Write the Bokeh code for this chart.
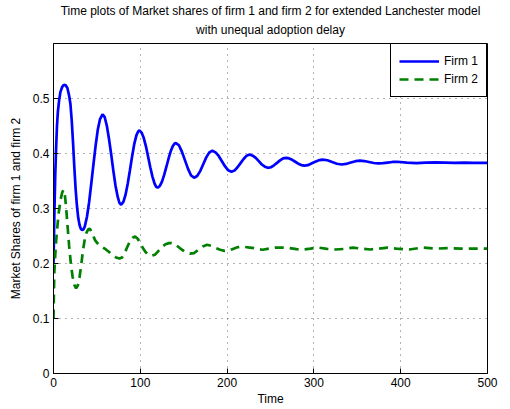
from bokeh.plotting import figure
from bokeh.models import Range1d, FixedTicker, Legend, LegendItem, Title
from bokeh.embed import file_html
from bokeh.resources import INLINE

# ---- data ----
t_firm1 = [0, 1, 2, 3, 4, 5, 6.5, 8, 10, 12, 14, 16, 18, 19.5, 21, 22.5, 24, 25.5, 27, 28.5, 30, 31.5, 33, 34.5,
           36, 38.5, 41, 43.5, 46, 48.5, 51, 53.5, 56.5,
           59, 61.5, 64, 66.5, 69, 71.5, 74, 76, 78,
           80.5, 83, 85.5, 88, 90.5, 93, 95.5, 97.5, 99,
           101.5, 104, 106.5, 109, 111.5, 114, 116.5, 118.5, 120,
           122.5, 125, 127.5, 130, 132.5, 135, 137.5, 139.5, 141,
           144.5, 148, 151.5, 155, 158.5, 162,
           165.5, 169, 172.5, 176, 179.5, 183,
           186.7, 190.3, 194, 197.7, 201.3, 205,
           208.5, 212, 215.5, 219, 222.5, 226,
           229.5, 233, 236.5, 240, 243.5, 247,
           250.5, 254, 257.5, 261, 264.5, 268,
           271.5, 275, 278.5, 282, 285.5, 289,
           293, 296, 299.5, 303, 306.5, 310,
           315.5, 321, 326.5, 332,
           337, 342.5, 348, 353,
           358, 363.5, 369, 374,
           379.5, 385, 390.5, 396,
           407, 418, 429, 440, 451, 462, 473, 484, 500]
share_firm1 = [0.20, 0.29, 0.36, 0.41, 0.45, 0.475, 0.497, 0.512, 0.521, 0.525, 0.524, 0.519, 0.505, 0.49, 0.46, 0.42, 0.375, 0.335, 0.305, 0.283, 0.27, 0.263, 0.261, 0.262,
               0.267, 0.2845, 0.311, 0.345, 0.380, 0.414, 0.443, 0.462, 0.471,
               0.466, 0.450, 0.426, 0.398, 0.368, 0.341, 0.321, 0.310, 0.307,
               0.312, 0.325, 0.345, 0.369, 0.394, 0.417, 0.433, 0.440, 0.442,
               0.438, 0.428, 0.413, 0.394, 0.375, 0.358, 0.345, 0.339, 0.338,
               0.341, 0.349, 0.361, 0.3755, 0.3905, 0.404, 0.4136, 0.418, 0.419,
               0.415, 0.403, 0.3875, 0.372, 0.360, 0.356,
               0.359, 0.368, 0.3805, 0.393, 0.402, 0.405,
               0.402, 0.3955, 0.386, 0.3765, 0.3695, 0.367,
               0.369, 0.375, 0.3825, 0.390, 0.396, 0.398,
               0.396, 0.392, 0.386, 0.380, 0.376, 0.374,
               0.375, 0.3785, 0.383, 0.3875, 0.391, 0.392,
               0.391, 0.3885, 0.385, 0.3815, 0.379, 0.378,
               0.3787, 0.381, 0.3835, 0.386, 0.388, 0.389,
               0.3877, 0.3845, 0.3813, 0.380,
               0.381, 0.3835, 0.386, 0.387,
               0.3863, 0.3845, 0.3827, 0.382,
               0.3824, 0.3835, 0.3846, 0.385,
               0.3835, 0.3825, 0.3835, 0.384, 0.3835, 0.383, 0.3835, 0.383, 0.383]

t_firm2 = [0, 0.5, 1, 2, 3, 4.5, 6, 8, 10, 11.5, 13, 14.5, 16, 18, 20, 22, 24, 26, 28, 30, 32, 34, 36, 38, 40, 42,
           45, 48, 52, 56, 60, 64, 68, 72, 76, 79, 82, 85, 88, 91, 94, 97, 100, 103, 106, 109, 113, 117,
           121, 125, 129, 133, 136, 140, 144, 148, 152, 157, 162, 167, 172, 177, 182, 187, 192, 197, 201,
           206, 211, 216, 221, 226, 231, 236, 241, 248, 256, 264, 272, 280, 288, 296, 305, 315, 325, 335,
           345, 355, 365, 375, 385, 395, 410, 425, 440, 455, 470, 485, 500]
share_firm2 = [0.10, 0.15, 0.185, 0.215, 0.24, 0.268, 0.292, 0.315, 0.329, 0.334, 0.326, 0.303, 0.272, 0.232, 0.2, 0.176, 0.161, 0.155, 0.16, 0.175, 0.198, 0.224, 0.244, 0.256, 0.262, 0.263,
               0.253, 0.242, 0.234, 0.23, 0.226, 0.221, 0.215, 0.211, 0.209, 0.211, 0.219, 0.23, 0.24, 0.247, 0.249, 0.245, 0.237, 0.228, 0.221, 0.216, 0.214, 0.216,
               0.223, 0.23, 0.235, 0.237, 0.237, 0.235, 0.230, 0.225, 0.221, 0.218, 0.219, 0.225, 0.231, 0.234, 0.232, 0.228, 0.225, 0.223, 0.223,
               0.226, 0.229, 0.231, 0.230, 0.229, 0.228, 0.226, 0.225, 0.227, 0.229, 0.229, 0.228, 0.226, 0.2255, 0.227, 0.229, 0.2265, 0.2255, 0.2265,
               0.229, 0.227, 0.2255, 0.227, 0.229, 0.227, 0.2255, 0.229, 0.227, 0.228, 0.227, 0.227, 0.227]

x_ticks = [0, 100, 200, 300, 400, 500]
y_ticks = [0, 0.1, 0.2, 0.3, 0.4, 0.5]
y_tick_labels = ["0", "0.1", "0.2", "0.3", "0.4", "0.5"]
series_names = ["Firm 1", "Firm 2"]
title_lines = ["Time plots of Market shares of firm 1 and firm 2 for extended Lanchester model",
               "with unequal adoption delay"]

assert len(t_firm1) == len(share_firm1)
assert len(t_firm2) == len(share_firm2)

FONT = "Liberation Sans"

p = figure(width=510, height=409, output_backend="svg", toolbar_location=None,
           x_range=Range1d(0, 500), y_range=Range1d(0, 0.6),
           min_border_left=53, min_border_right=23, min_border_top=43, min_border_bottom=36,
           background_fill_color="white", border_fill_color="white")
p.title = None


def make_title(text, standoff, valign):
    return Title(text=text, align="center", vertical_align=valign, text_font=FONT,
                 text_font_size="12px", text_font_style="normal", text_color="black",
                 standoff=standoff, offset=0)


p.add_layout(make_title(title_lines[1], 10, "top"), "above")
p.add_layout(make_title(title_lines[0], 0, "bottom"), "above")

p.outline_line_color = "black"
p.outline_line_width = 1
p.outline_line_alpha = 1

for ax in (p.xaxis[0], p.yaxis[0]):
    ax.axis_line_color = "black"
    ax.axis_line_width = 1
    ax.major_tick_in = 5
    ax.major_tick_out = 0
    ax.minor_tick_in = 0
    ax.minor_tick_out = 0
    ax.major_tick_line_color = "black"
    ax.major_label_text_font = FONT
    ax.major_label_text_font_size = "12px"
    ax.major_label_text_color = "black"
    ax.axis_label_text_font = FONT
    ax.axis_label_text_font_size = "12px"
    ax.axis_label_text_font_style = "normal"
    ax.axis_label_text_color = "black"

p.xaxis.ticker = FixedTicker(ticks=x_ticks)
p.yaxis.ticker = FixedTicker(ticks=y_ticks)
p.yaxis.major_label_overrides = dict(zip(y_ticks, y_tick_labels))
p.xaxis.axis_label = "Time"
p.yaxis.axis_label = "Market Shares of firm 1 and firm 2"
p.xaxis.major_label_standoff = 4
p.xaxis.axis_label_standoff = 2
p.yaxis.major_label_standoff = 4
p.yaxis.axis_label_standoff = 7

p.grid.grid_line_color = "black"
p.grid.grid_line_alpha = 0.6
p.grid.grid_line_dash = "1 5"
p.grid.grid_line_width = 1

r1 = p.line(t_firm1, share_firm1, line_color="#0000ff", line_width=2.7)
r2 = p.line(t_firm2, share_firm2, line_color="#008000", line_width=2.7, line_dash="9 6")

legend = Legend(items=[LegendItem(label=series_names[0], renderers=[r1]),
                       LegendItem(label=series_names[1], renderers=[r2])],
                location="top_right", margin=0, padding=8, spacing=0,
                label_height=18, glyph_height=18, glyph_width=40, label_standoff=5,
                border_line_color="black", border_line_width=1, border_line_alpha=1,
                background_fill_color="white", background_fill_alpha=1,
                label_text_font=FONT, label_text_font_size="12px", label_text_color="black")
p.add_layout(legend)

open("out.html", "w").write(file_html(p, INLINE))
